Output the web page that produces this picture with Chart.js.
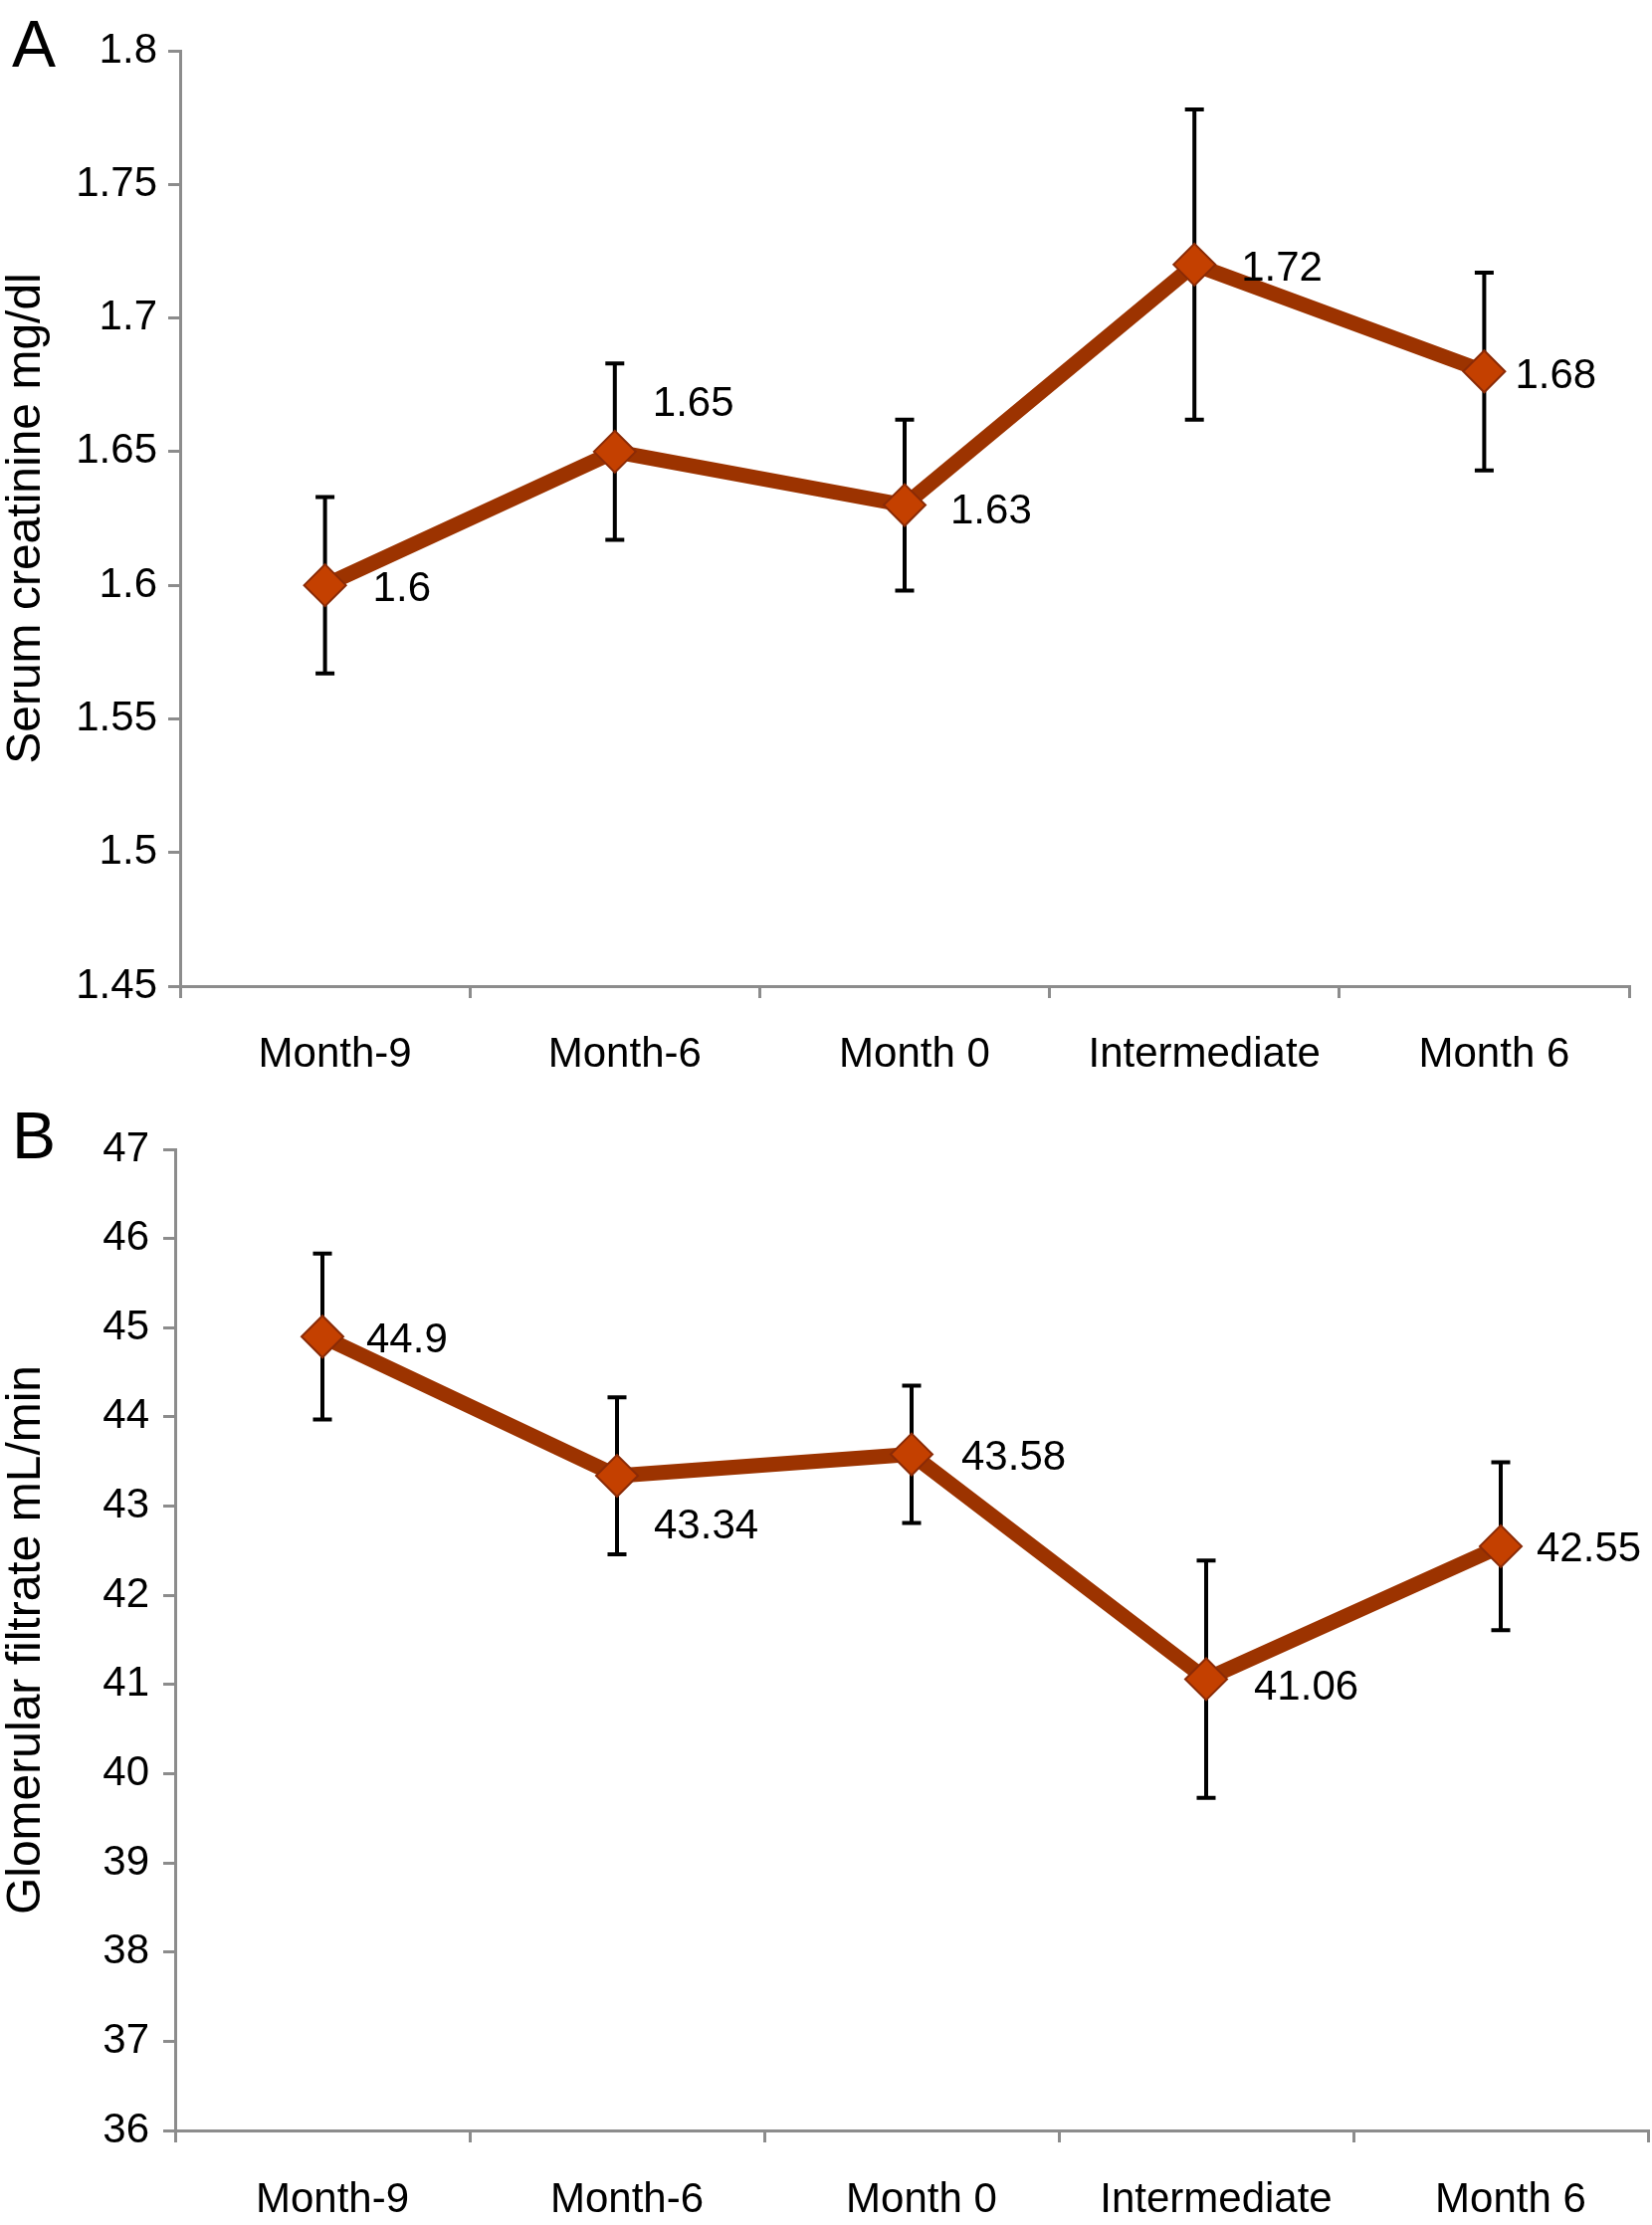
<!DOCTYPE html>
<html><head><meta charset="utf-8">
<script src="https://cdn.jsdelivr.net/npm/chart.js@4"></script>
<style>
html,body{margin:0;padding:0;background:#fff;}
body{width:1660px;height:2236px;position:relative;overflow:hidden;}
canvas{position:absolute;left:0;}
#cA{top:0;} #cB{top:1110px;}
</style></head><body>
<canvas id="cA" width="1660" height="1110" style="width:1660px;height:1110px"></canvas>
<canvas id="cB" width="1660" height="1126" style="width:1660px;height:1126px"></canvas>
<script>
// ---- data ----
const categories = ['Month-9', 'Month-6', 'Month 0', 'Intermediate', 'Month 6'];

const creatinine = [1.60, 1.65, 1.63, 1.72, 1.68];
const creatinineErr = [0.033, 0.033, 0.032, 0.058, 0.037];
const creatinineLabels = ['1.6', '1.65', '1.63', '1.72', '1.68'];
const creatinineTicks = [1.45, 1.5, 1.55, 1.6, 1.65, 1.7, 1.75, 1.8];

const gfr = [44.9, 43.34, 43.58, 41.06, 42.55];
const gfrErr = [0.93, 0.88, 0.77, 1.33, 0.94];
const gfrLabels = ['44.9', '43.34', '43.58', '41.06', '42.55'];
const gfrTicks = [36, 37, 38, 39, 40, 41, 42, 43, 44, 45, 46, 47];

// ---- styling ----
const FONT = "'Liberation Sans', Arial, Helvetica, sans-serif";
const GRAY = '#8c8c8c';
const LINE = '#9c3300';
const FILL = '#c44000';
const EDGE = '#8a2a06';
// label placement offsets (px, relative to point) - styling only
const placeA = [[48, 4], [38, -47], [46, 7], [47, 5], [31, 5]];
const placeB = [[44, 4], [37, 51], [50, 4], [48, 9], [36, 4]];

const extras = {
  id: 'extras',
  beforeDatasetsDraw(chart) {
    const o = chart.options.plugins.extras;
    const ctx = chart.ctx, xs = chart.scales.x, ys = chart.scales.y;
    ctx.save();
    ctx.strokeStyle = '#000';
    ctx.lineWidth = 4;
    chart.data.datasets[0].data.forEach((v, i) => {
      const x = xs.getPixelForValue(i);
      const yT = ys.getPixelForValue(v + o.err[i]);
      const yB = ys.getPixelForValue(v - o.err[i]);
      ctx.beginPath();
      ctx.moveTo(x, yT); ctx.lineTo(x, yB);
      ctx.moveTo(x - 9.5, yT); ctx.lineTo(x + 9.5, yT);
      ctx.moveTo(x - 9.5, yB); ctx.lineTo(x + 9.5, yB);
      ctx.stroke();
    });
    ctx.restore();
  },
  afterDatasetsDraw(chart) {
    const o = chart.options.plugins.extras;
    const ctx = chart.ctx, xs = chart.scales.x, ys = chart.scales.y;
    ctx.save();
    ctx.fillStyle = '#000';
    ctx.font = '42px ' + FONT;
    ctx.textAlign = 'left';
    ctx.textBaseline = 'middle';
    chart.data.datasets[0].data.forEach((v, i) => {
      const x = xs.getPixelForValue(i), y = ys.getPixelForValue(v);
      ctx.fillText(o.labels[i], x + o.place[i][0], y + o.place[i][1]);
    });
    ctx.font = '66px ' + FONT;
    ctx.textBaseline = 'alphabetic';
    ctx.fillText(o.letter, 12, o.letterY);
    ctx.restore();
  }
};

function makeChart(id, values, err, labels, ticks, title, place, letter, letterY, dims) {
  return new Chart(document.getElementById(id), {
    type: 'line',
    data: {
      labels: categories,
      datasets: [{
        data: values,
        borderColor: LINE,
        borderWidth: 15,
        pointStyle: 'rectRot',
        pointRadius: 21,
        pointBackgroundColor: FILL,
        pointBorderColor: EDGE,
        pointBorderWidth: 2,
        tension: 0,
        fill: false,
        clip: false
      }]
    },
    options: {
      responsive: false,
      maintainAspectRatio: false,
      animation: false,
      devicePixelRatio: 1,
      layout: { autoPadding: false, padding: { left: 0, top: dims.top, right: dims.right, bottom: 0 } },
      plugins: {
        legend: { display: false },
        tooltip: { enabled: false },
        extras: { err: err, labels: labels, place: place, letter: letter, letterY: letterY }
      },
      scales: {
        x: {
          type: 'category',
          offset: true,
          afterFit: s => { s.height = dims.xh; s.paddingLeft = 0; s.paddingRight = 0; },
          ticks: { padding: dims.xpad, labelOffset: 10, color: '#000', font: { family: FONT, size: 42 }, maxRotation: 0, autoSkip: false },
          grid: { offset: true, drawOnChartArea: false, drawTicks: true, tickLength: 12, color: GRAY, lineWidth: 3 },
          border: { display: true, color: GRAY, width: 3 }
        },
        y: {
          type: 'linear',
          min: ticks[0],
          max: ticks[ticks.length - 1],
          afterBuildTicks: s => { s.ticks = ticks.map(v => ({ value: v })); },
          afterFit: s => { s.width = dims.yw; },
          ticks: { padding: dims.ypad, color: '#000', font: { family: FONT, size: 42 }, callback: v => String(+(+v).toFixed(2)) },
          grid: { drawOnChartArea: false, drawTicks: true, tickLength: 12, color: GRAY, lineWidth: 3 },
          border: { display: true, color: GRAY, width: 3 },
          title: { display: true, text: title, color: '#000', font: { family: FONT, size: 48, lineHeight: 1.1 }, padding: 0 }
        }
      }
    },
    plugins: [extras]
  });
}

makeChart('cA', creatinine, creatinineErr, creatinineLabels, creatinineTicks,
  'Serum creatinine mg/dl', placeA, 'A', 67,
  { top: 51, right: 23, xh: 119, xpad: 32, yw: 181, ypad: 11 });

makeChart('cB', gfr, gfrErr, gfrLabels, gfrTicks,
  'Glomerular filtrate mL/min', placeB, 'B', 54,
  { top: 45, right: 4, xh: 95, xpad: 33, yw: 176, ypad: 14 });
</script>
</body></html>
